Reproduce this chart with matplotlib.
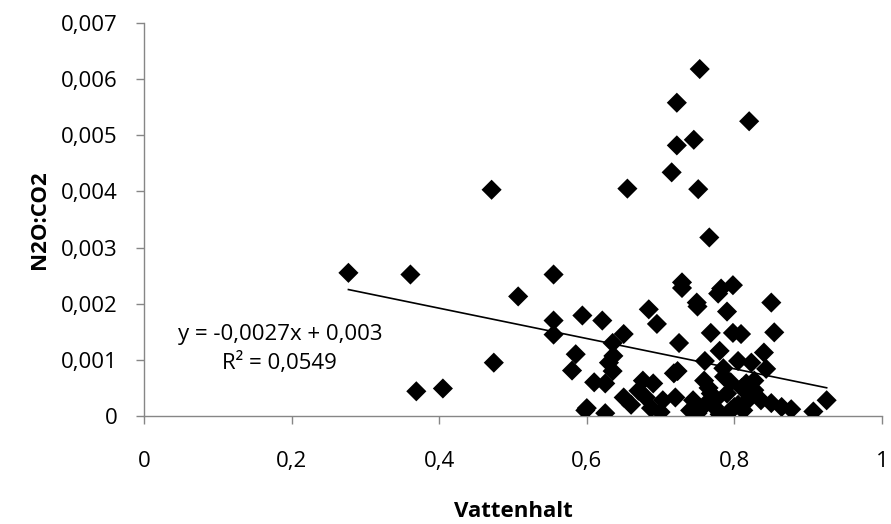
import matplotlib.pyplot as plt
from matplotlib.ticker import FuncFormatter

# vattenhalt (x) och N2O:CO2 (y), avlästa punkter
vattenhalt = [0.277, 0.361, 0.369, 0.405, 0.471, 0.474, 0.507, 0.555, 0.555, 0.555,
              0.585, 0.580, 0.594, 0.600, 0.621, 0.655, 0.684, 0.695, 0.750, 0.790,
              0.650, 0.635, 0.725, 0.768, 0.798, 0.635, 0.636, 0.723, 0.760, 0.780,
              0.805, 0.598, 0.625, 0.625, 0.676, 0.690, 0.650, 0.680, 0.703, 0.720,
              0.700, 0.687, 0.744, 0.750, 0.759, 0.768, 0.773, 0.786, 0.790, 0.800,
              0.810, 0.818, 0.827, 0.718, 0.630, 0.753, 0.722, 0.820, 0.722, 0.745,
              0.715, 0.751, 0.766, 0.729, 0.729, 0.782, 0.798, 0.778, 0.749, 0.850,
              0.854, 0.840, 0.823, 0.843, 0.925, 0.907, 0.877, 0.864, 0.850, 0.836,
              0.827, 0.816, 0.809, 0.775, 0.795, 0.805, 0.765, 0.785, 0.740, 0.660,
              0.610, 0.670, 0.795, 0.780, 0.760, 0.812]
n2o_co2 = [0.00255, 0.00252, 0.00044, 0.00049, 0.00403, 0.00095, 0.00213, 0.00252, 0.00170, 0.00145,
           0.00110, 0.00081, 0.00179, 0.00014, 0.00170, 0.00405, 0.00190, 0.00164, 0.00195, 0.00186,
           0.00146, 0.00130, 0.00130, 0.00148, 0.00148, 0.00080, 0.00107, 0.00080, 0.00098, 0.00116,
           0.00098, 0.00010, 0.00005, 0.00058, 0.00063, 0.00058, 0.00033, 0.00033, 0.00028, 0.00033,
           0.00007, 0.00014, 0.00028, 0.00005, 0.00063, 0.00040, 0.00016, 0.00070, 0.00040, 0.00016,
           0.00050, 0.00028, 0.00063, 0.00076, 0.00095, 0.00618, 0.00558, 0.00525, 0.00482, 0.00492,
           0.00434, 0.00404, 0.00318, 0.00238, 0.00228, 0.00227, 0.00233, 0.00218, 0.00202, 0.00202,
           0.00149, 0.00113, 0.00095, 0.00084, 0.00028, 0.00008, 0.00012, 0.00016, 0.00023, 0.00028,
           0.00046, 0.00058, 0.00146, 0.00030, 0.00010, 0.00020, 0.00050, 0.00085, 0.00010, 0.00020,
           0.00060, 0.00045, 0.00060, 0.00003, 0.00020, 0.00010]

# trendlinje (linjär) enligt diagrammets etikett
slope = -0.0027
intercept = 0.003
r2 = 0.0549

x_ticks = [0, 0.2, 0.4, 0.6, 0.8, 1]
y_ticks = [0, 0.001, 0.002, 0.003, 0.004, 0.005, 0.006, 0.007]

plt.rcParams['font.family'] = ['Open Sans', 'DejaVu Sans']

fig = plt.figure(figsize=(8.91, 5.24), dpi=100)
ax = fig.add_axes([144 / 891, 1 - 416 / 524, 738 / 891, 393 / 524])

ax.scatter(vattenhalt, n2o_co2, marker='D', s=105, color='black', edgecolors='none', zorder=3)

x0, x1 = min(vattenhalt), max(vattenhalt)
ax.plot([x0, x1], [slope * x0 + intercept, slope * x1 + intercept], color='black', lw=1.2, zorder=4)

eq = f"y = -{abs(slope):.4f}x + {intercept:.3f}\nR² = {r2:.4f}".replace('.', ',')
ax.text(0.184, 0.00119, eq, ha='center', va='center', fontsize=16, linespacing=1.4)

ax.set_xlim(0, 1)
ax.set_ylim(0, 0.007)
ax.set_xticks(x_ticks)
ax.set_yticks(y_ticks)
ax.xaxis.set_major_formatter(FuncFormatter(lambda v, p: f"{v:g}".replace('.', ',')))
ax.yaxis.set_major_formatter(FuncFormatter(lambda v, p: "0" if v == 0 else f"{v:.3f}".replace('.', ',')))

for s in ['top', 'right']:
    ax.spines[s].set_visible(False)
for s in ['left', 'bottom']:
    ax.spines[s].set_color('#868686')
    ax.spines[s].set_linewidth(1.0)
ax.tick_params(axis='both', colors='#868686', labelcolor='black', labelsize=16, length=6, width=1.0)
ax.tick_params(axis='x', pad=19)
ax.tick_params(axis='y', pad=13)

ax.set_xlabel('Vattenhalt', fontsize=16, fontweight='bold', labelpad=21)
ax.set_ylabel('N2O:CO2', fontsize=16, fontweight='bold', labelpad=8)

fig.savefig('out.png', dpi=100)
